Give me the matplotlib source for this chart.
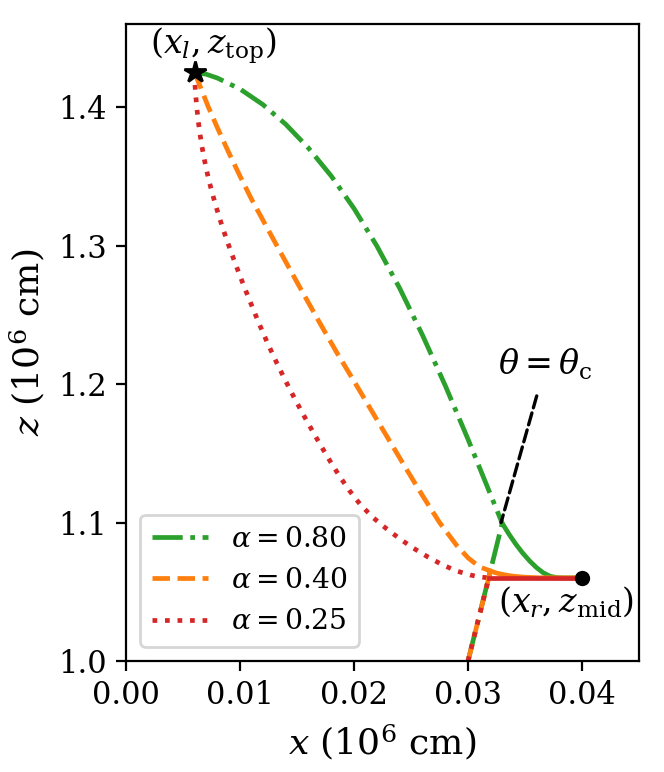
import numpy as np
import matplotlib
matplotlib.use("Agg")
import matplotlib.pyplot as plt

plt.rcParams['font.family'] = ['DejaVu Serif']
plt.rcParams['mathtext.fontset'] = 'dejavuserif'
plt.rcParams['font.size'] = 11

# start / end points (10^6 cm)
x_l, z_top = 0.006, 1.425
x_r, z_mid = 0.040, 1.06
# foot of the critical-angle line
x_c0, z_c0 = 0.030, 1.0

alphas = [0.80, 0.40, 0.25]
colors = ['tab:green', 'tab:orange', 'tab:red']
styles = ['-.', '--', ':']

# part of each curve from the star to the critical line
x_green_a = [0.0060, 0.0070, 0.0080, 0.0100, 0.0120, 0.0140, 0.0160, 0.0180,
             0.0200, 0.0220, 0.0240, 0.0260, 0.0280, 0.0300, 0.0320, 0.0330]
z_green_a = [1.4250, 1.4238, 1.4210, 1.4130, 1.4018, 1.3876, 1.3704, 1.3502,
             1.3267, 1.2997, 1.2692, 1.2354, 1.1989, 1.1601, 1.1196, 1.0995]

x_orange_a = [0.0060, 0.0065, 0.0072, 0.0080, 0.0090, 0.0100, 0.0110, 0.0125,
              0.0140, 0.0155, 0.0170, 0.0185, 0.0200, 0.0215, 0.0230, 0.0245,
              0.0260, 0.0275, 0.0290, 0.0300, 0.0310, 0.03197]
z_orange_a = [1.4250, 1.4148, 1.4003, 1.3852, 1.3672, 1.3500, 1.3335, 1.3108,
              1.2883, 1.2660, 1.2440, 1.2225, 1.2020, 1.1812, 1.1605, 1.1398,
              1.1195, 1.1000, 1.0835, 1.0745, 1.0680, 1.0650]

x_red_a = [0.00600, 0.00604, 0.00612, 0.00622, 0.00634, 0.00648, 0.00664, 0.00683,
           0.00704, 0.00728, 0.00755, 0.00784, 0.00815, 0.00848, 0.00883, 0.00920,
           0.00958, 0.00997, 0.01037, 0.01078, 0.01120, 0.01162, 0.0124, 0.0132,
           0.0140, 0.0148, 0.0156, 0.0164, 0.0172, 0.0180, 0.0188, 0.0196,
           0.0205, 0.0216, 0.0228, 0.0240, 0.0252, 0.0265, 0.0278, 0.0290,
           0.0302, 0.0310, 0.03182]
z_red_a = [1.4250, 1.4160, 1.4070, 1.3980, 1.3890, 1.3805, 1.3720, 1.3635,
           1.3550, 1.3465, 1.3380, 1.3295, 1.3210, 1.3125, 1.3040, 1.2955,
           1.2870, 1.2785, 1.2700, 1.2615, 1.2530, 1.2445, 1.2297, 1.2155,
           1.2021, 1.1893, 1.1771, 1.1653, 1.1539, 1.1429, 1.1325, 1.1230,
           1.1135, 1.1040, 1.0958, 1.0883, 1.0815, 1.0750, 1.0693, 1.0650,
           1.0621, 1.0607, 1.0600]

# part of each curve past the critical line
x_green_b = [0.0330, 0.0336, 0.0342, 0.0348, 0.0354, 0.0360, 0.0366, 0.0372,
             0.0378, 0.0384, 0.0400]
z_green_b = [1.0995, 1.0915, 1.0843, 1.0779, 1.0723, 1.0675, 1.0637, 1.0612,
             1.0602, 1.0600, 1.0600]
x_orange_b = [0.03197, 0.0325, 0.0332, 0.0340, 0.0350, 0.0362, 0.0400]
z_orange_b = [1.0650, 1.0635, 1.0622, 1.0612, 1.0605, 1.0601, 1.0600]
x_red_b = [0.03182, 0.0400]
z_red_b = [1.0600, 1.0600]

xa = [x_green_a, x_orange_a, x_red_a]
za = [z_green_a, z_orange_a, z_red_a]
xb = [x_green_b, x_orange_b, x_red_b]
zb = [z_green_b, z_orange_b, z_red_b]

fig = plt.figure(figsize=(3.32, 3.86), dpi=200)
ax = fig.add_axes([0.190, 0.1438, 0.7723, 0.8251])

lw = 1.7
for i in range(3):
    ax.plot(xa[i], za[i], ls=styles[i], color=colors[i], lw=lw,
            label=r'$\alpha = %.2f$' % alphas[i])
for i in range(3):
    ax.plot([x_c0, xa[i][-1]], [z_c0, za[i][-1]], ls=styles[i], color=colors[i], lw=lw)
for i in range(3):
    ax.plot(xb[i], zb[i], ls='-', color=colors[i], lw=lw)

ax.plot([x_l], [z_top], marker='*', color='k', ms=8, zorder=5)
ax.plot([x_r], [z_mid], marker='o', color='k', ms=4.5, zorder=5)

ax.text(0.0076, 1.444, r'$(x_l, z_{\rm top})$', ha='center', va='center', fontsize=12)
ax.text(0.0386, 1.0427, r'$(x_r, z_{\rm mid})$', ha='center', va='center', fontsize=12)
ax.annotate(r'$\theta = \theta_{\rm c}$', xy=(0.0329, 1.100), xytext=(0.0368, 1.214),
            ha='center', va='center', fontsize=12,
            arrowprops=dict(arrowstyle='-', ls='--', color='k', lw=1.2,
                            shrinkA=3, shrinkB=0))

ax.set_xlim(0, 0.045)
ax.set_ylim(1.0, 1.46)
ax.set_xticks([0.00, 0.01, 0.02, 0.03, 0.04])
ax.set_yticks([1.0, 1.1, 1.2, 1.3, 1.4])
ax.set_xlabel(r'$x$ ($10^6$ cm)', fontsize=13)
ax.set_ylabel(r'$z$ ($10^6$ cm)', fontsize=13)
ax.legend(loc='lower left', fontsize=10.2)

fig.savefig('out.png', dpi=200)
